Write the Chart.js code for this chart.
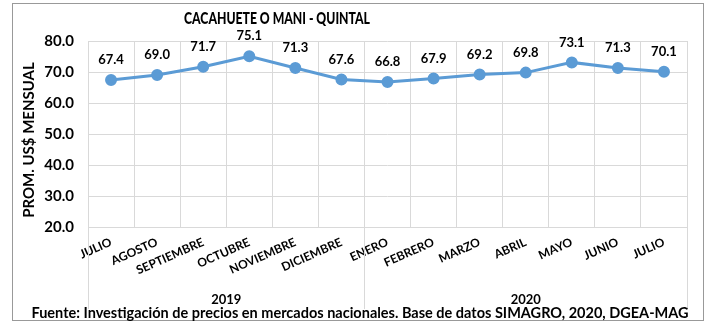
<!DOCTYPE html>
<html>
<head>
  <meta charset="UTF-8">
  <title>Cacahuete o Mani - Quintal</title>
  <script src="https://cdn.jsdelivr.net/npm/chart.js@4/dist/chart.umd.min.js"></script>
  <style>
    * { margin: 0; padding: 0; box-sizing: border-box; }
    body { background: #fff; width: 707px; height: 323px; overflow: hidden; }
    canvas { display: block; }
  </style>
</head>
<body>
  <canvas id="precioChart" width="707" height="323"></canvas>

  <script>
    // --- Data ---
    const months = ['JULIO', 'AGOSTO', 'SEPTIEMBRE', 'OCTUBRE', 'NOVIEMBRE', 'DICIEMBRE',
                    'ENERO', 'FEBRERO', 'MARZO', 'ABRIL', 'MAYO', 'JUNIO', 'JULIO'];
    const years = ['2019', '2020'];
    const monthsPerYear = [6, 7];
    const prices = [67.4, 69.0, 71.7, 75.1, 71.3, 67.6, 66.8, 67.9, 69.2, 69.8, 73.1, 71.3, 70.1];
    const yTicks = [20, 30, 40, 50, 60, 70, 80];

    const chartTitle = 'CACAHUETE O MANI - QUINTAL';
    const yTitle = 'PROM. US$ MENSUAL';
    const source = 'Fuente: Investigación de precios en mercados nacionales. Base de datos SIMAGRO, 2020, DGEA-MAG';

    const FONT = 'Lato, "Open Sans", sans-serif';
    const LINE = '#5b9bd5';
    const GRID = '#d9d9d9';

    // draw centred text squeezed horizontally to a given width
    function fitText(ctx, text, cx, cy, width) {
      const w = ctx.measureText(text).width;
      const s = Math.min(1, width / w);
      ctx.save();
      ctx.translate(cx, cy);
      ctx.scale(s, 1);
      ctx.fillText(text, 0, 0);
      ctx.restore();
    }

    // --- Extra drawing: frame, title, value labels, year groups, source ---
    const decorations = {
      id: 'decorations',
      afterDatasetsDraw(chart) {
        const ctx = chart.ctx;
        const area = chart.chartArea;
        const x = chart.scales.x;
        const meta = chart.getDatasetMeta(0);
        ctx.save();

        // outer frame
        ctx.strokeStyle = '#999';
        ctx.lineWidth = 1;
        ctx.strokeRect(12.5, 3.5, 691, 317);

        ctx.fillStyle = '#000';
        ctx.textAlign = 'center';
        ctx.textBaseline = 'middle';

        // title
        ctx.font = '900 17px ' + FONT;
        fitText(ctx, chartTitle, 277, 19, 186);

        // value labels above the points
        ctx.font = 'bold 13px ' + FONT;
        meta.data.forEach((pt, i) => {
          ctx.fillText(prices[i].toFixed(1), pt.x, pt.y - 20);
        });

        // y axis title
        ctx.save();
        ctx.translate(29, (area.top + area.bottom) / 2 + 6);
        ctx.rotate(-Math.PI / 2);
        ctx.font = 'bold 15px ' + FONT;
        ctx.fillText(yTitle, 0, 0);
        ctx.restore();

        // year groups below the month labels
        ctx.strokeStyle = GRID;
        let start = 0;
        const edges = [x.left];
        monthsPerYear.forEach((n, g) => {
          const end = start + n;
          const x0 = start === 0 ? x.left : (x.getPixelForValue(start - 1) + x.getPixelForValue(start)) / 2;
          const x1 = end === months.length ? x.right : (x.getPixelForValue(end - 1) + x.getPixelForValue(end)) / 2;
          edges.push(x1);
          ctx.font = 'bold 13px ' + FONT;
          ctx.fillText(years[g], (x0 + x1) / 2, 300);
          start = end;
        });
        edges.forEach(ex => {
          ctx.beginPath();
          ctx.moveTo(Math.round(ex) + 0.5, area.bottom);
          ctx.lineTo(Math.round(ex) + 0.5, 309);
          ctx.stroke();
        });

        // source note
        ctx.font = 'bold 14.5px ' + FONT;
        fitText(ctx, source, 360, 313, 660);

        ctx.restore();
      }
    };

    new Chart(document.getElementById('precioChart'), {
      type: 'line',
      data: {
        labels: months,
        datasets: [{
          data: prices,
          borderColor: LINE,
          backgroundColor: LINE,
          borderWidth: 3,
          pointRadius: 4.5,
          pointBackgroundColor: LINE,
          pointBorderColor: LINE,
          tension: 0,
        }]
      },
      options: {
        responsive: false,
        animation: false,
        layout: { padding: { top: 41, right: 20, left: 0, bottom: 0 } },
        plugins: {
          legend: { display: false },
          title: { display: false },
          tooltip: { enabled: false },
        },
        scales: {
          x: {
            type: 'category',
            offset: true,
            grid: { color: GRID, offset: true, drawTicks: false },
            border: { color: GRID },
            ticks: {
              color: '#000',
              font: { family: FONT, size: 12, weight: 'bold' },
              minRotation: 24,
              maxRotation: 24,
              padding: 8,
              autoSkip: false,
            },
            afterFit: (scale) => { scale.height = 96; },
          },
          y: {
            min: 20,
            max: 80,
            afterBuildTicks: (scale) => { scale.ticks = yTicks.map(v => ({ value: v })); },
            grid: { color: GRID, drawTicks: false },
            border: { display: false },
            ticks: {
              color: '#000',
              font: { family: FONT, size: 15, weight: 'bold' },
              padding: 14,
              callback: (v) => v.toFixed(1),
            },
            afterFit: (scale) => { scale.width = 88; },
          }
        }
      },
      plugins: [decorations]
    });
  </script>
</body>
</html>
